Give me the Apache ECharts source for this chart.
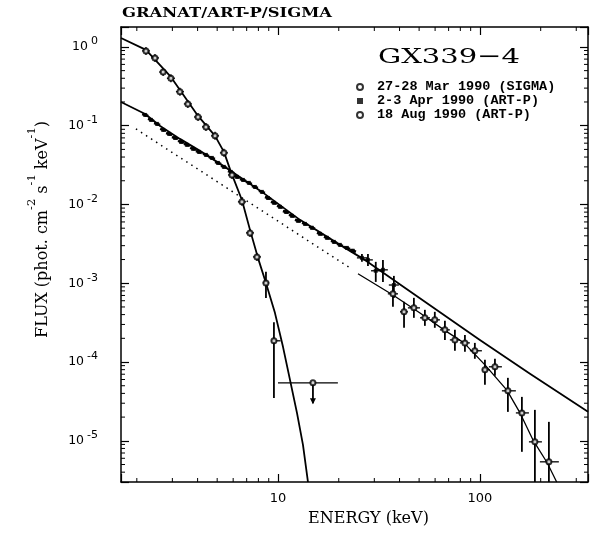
<!DOCTYPE html>
<html><head><meta charset="utf-8">
<script src="https://cdn.jsdelivr.net/npm/echarts@6/dist/echarts.min.js"></script>
<style>html,body{margin:0;padding:0;background:#fff}#c{width:596px;height:533px}</style>
</head><body><div id="c"></div>
<script>
// ---- axes ----
const xRange = [1.67, 343];
const yRange = [3.0e-6, 1.79];
const minorSteps = [2, 3, 4, 5, 6, 7, 8, 9];
const xDecades = [1, 10, 100];
const yDecades = [1e-6, 1e-5, 1e-4, 1e-3, 1e-2, 1e-1, 1];
const legendNames = ['27-28 Mar 1990 (SIGMA)', '2-3 Apr 1990 (ART-P)', '18 Aug 1990 (ART-P)'];

// ---- 2-3 Apr 1990 (ART-P), filled ----
const aprE = [2.20,2.35,2.52,2.70,2.89,3.09,3.31,3.54,3.80,4.06,4.40,4.71,5.05,5.40,5.85,6.27,6.71,7.18,7.69,8.33,8.92,9.55,10.23,10.95,11.73,12.56,13.61,14.74,16.14,17.48,18.93,20.27,21.96,23.51];
const aprF = [0.137,0.1185,0.1054,0.0885,0.0787,0.070,0.0623,0.0571,0.0508,0.0465,0.0426,0.039,0.0337,0.030,0.0259,0.0224,0.0205,0.0188,0.0167,0.01445,0.0121,0.0105,0.00933,0.00805,0.00717,0.0062,0.00567,0.00505,0.00424,0.00377,0.00335,0.00307,0.00281,0.00258];
const aprErrE   = [26.05, 27.9, 30.5, 33.1, 37.5];
const aprErrF   = [0.0021, 0.00198, 0.00144, 0.00148, 0.00095];
const aprErrElo = [24.6, 26.4, 28.9, 31.3, 35.4];
const aprErrEhi = [27.6, 29.5, 32.4, 35.0, 39.7];
const aprErrFlo = [0.00187, 0.00166, 0.00104, 0.00104, 0.00065];
const aprErrFhi = [0.00236, 0.00236, 0.00187, 0.00198, 0.00124];
const aprModelE = [1.67,2.20,2.61,3.27,4.11,5.85,8.33,12.85,20.3,26.4,100,177,343];
const aprModelF = [0.20,0.141,0.099,0.068,0.0479,0.0267,0.01445,0.00638,0.00307,0.00204,0.000191,0.000071,0.0000233];

// ---- 27-28 Mar 1990 (SIGMA), open ----
const sigE   = [37.1,42.1,47.1,53.4,59.8,67.1,75.2,84.3,94.4,105.9,118.7,137.6,161.4,187.2,219.6];
const sigF   = [7.34e-4,4.34e-4,4.87e-4,3.64e-4,3.43e-4,2.56e-4,1.91e-4,1.75e-4,1.39e-4,7.96e-5,8.7e-5,4.31e-5,2.26e-5,9.7e-6,5.41e-6];
const sigElo = [35.0,40.2,44.0,50.5,56.6,63.4,71.0,79.6,89.2,102.3,110.8,128.5,150.7,174.9,198.2];
const sigEhi = [39.3,44.0,50.5,56.6,63.4,71.0,79.6,89.2,102.3,112.1,128.5,150.7,174.9,202.8,246];
const sigFlo = [5.02e-4,2.72e-4,3.64e-4,2.88e-4,2.72e-4,1.91e-4,1.39e-4,1.35e-4,1.10e-4,5.14e-5,6.68e-5,2.33e-5,7.25e-6,3.0e-6,3.0e-6];
const sigFhi = [9.27e-4,5.81e-4,6.53e-4,4.6e-4,4.34e-4,3.33e-4,2.56e-4,2.21e-4,1.75e-4,1.07e-4,1.10e-4,6.3e-5,3.61e-5,2.47e-5,1.74e-5];
const sigDotE = [1.98, 22.7];
const sigDotF = [0.091, 1.57e-3];
const sigModelE = [24.9,37.1,50.5,66.4,83.4,105.9,136,158,183,215,240];
const sigModelF = [1.32e-3,7.1e-4,4.2e-4,2.56e-4,1.75e-4,9.2e-5,4.4e-5,2.26e-5,1.03e-5,5.3e-6,3.0e-6];

// ---- 18 Aug 1990 (ART-P), open ----
const augE = [2.22,2.46,2.70,2.95,3.27,3.58,4.02,4.40,4.88,5.40,5.92,6.63,7.27,7.87];
const augF = [0.89,0.725,0.48,0.40,0.27,0.189,0.129,0.0966,0.0743,0.0452,0.0237,0.0108,0.00436,0.00216];
const augErrE   = [8.72, 9.55];
const augErrF   = [0.00101, 1.86e-4];
const augErrElo = [8.4, 9.27];
const augErrEhi = [9.05, 10.3];
const augErrFlo = [6.5e-4, 3.5e-5];
const augErrFhi = [1.4e-3, 3.2e-4];
const augUlE = [14.9], augUlF = [5.45e-5], augUlElo = [10.0], augUlEhi = [19.8], augUlTip = [3.0e-5];
const augModelE = [1.67,2.22,2.95,4.02,4.88,5.40,5.85,6.63,7.27,7.96,8.72,9.66,10.59,11.47,12.42,13.30,14.08];
const augModelF = [1.30,0.916,0.416,0.133,0.0743,0.0465,0.0259,0.0114,0.00476,0.0021,0.00101,4.21e-4,1.56e-4,5.94e-5,2.26e-5,8.9e-6,3.0e-6];

// ---- helpers ----
const zip = (...a) => a[0].map((_, i) => a.map(arr => arr[i]));
const inRange = (v, r) => v > r[0] * 1.0001 && v < r[1] * 0.9999;
const xMinor = [], yMinor = [];
xDecades.forEach(d => minorSteps.forEach(s => { if (inRange(d * s, xRange)) xMinor.push(d * s); }));
yDecades.forEach(d => minorSteps.forEach(s => { if (inRange(d * s, yRange)) yMinor.push(d * s); }));
const isDecade = v => Math.abs(Math.log10(v) - Math.round(Math.log10(v))) < 1e-6;
function measure(text, font) { const c = document.createElement('canvas').getContext('2d'); c.font = font; return c.measureText(text).width; }
const K = '#000';
const ln = (x1, y1, x2, y2, w) => ({type: 'line', shape: {x1, y1, x2, y2}, style: {stroke: K, lineWidth: w}});

function minorXRender(params, api) {
  const x = api.value(0);
  const b = api.coord([x, yRange[0]]), t = api.coord([x, yRange[1]]);
  return {type: 'group', children: [ln(b[0], b[1], b[0], b[1] - 4, 1), ln(t[0], t[1], t[0], t[1] + 4, 1)]};
}
function minorYRender(params, api) {
  const y = api.value(1);
  const l = api.coord([xRange[0], y]), r = api.coord([xRange[1], y]);
  return {type: 'group', children: [ln(l[0], l[1], l[0] + 4, l[1], 1), ln(r[0], r[1], r[0] - 4, r[1], 1)]};
}
function dashRender(params, api) {
  const p = api.coord([api.value(0), api.value(1)]);
  return {type: 'group', children: [ln(p[0] - 3, p[1] - 1, p[0] + 3, p[1] + 1, 2.6), ln(p[0], p[1] - 2, p[0], p[1] + 2, 1.2)]};
}
function crossRender(params, api) {
  const p = api.coord([api.value(0), api.value(1)]);
  return {type: 'group', children: [ln(p[0] - 4, p[1], p[0] + 4, p[1], 1.3), ln(p[0], p[1] - 4, p[0], p[1] + 4, 1.3)]};
}
function errRender(params, api) {
  const e = api.value(0), f = api.value(1);
  const a = api.coord([api.value(2), f]), b = api.coord([api.value(3), f]);
  const c = api.coord([e, api.value(4)]), d = api.coord([e, api.value(5)]);
  return {type: 'group', children: [ln(a[0], a[1], b[0], b[1], 1.3), ln(c[0], c[1], d[0], d[1], 1.8)]};
}
function ulRender(params, api) {
  const e = api.value(0), f = api.value(1);
  const a = api.coord([api.value(2), f]), b = api.coord([api.value(3), f]);
  const p = api.coord([e, f]), t = api.coord([e, api.value(4)]);
  return {type: 'group', children: [
    ln(a[0], a[1], b[0], b[1], 1.3), ln(p[0], p[1], t[0], t[1], 1.8),
    {type: 'polygon', shape: {points: [[t[0] - 3, t[1] - 5], [t[0] + 3, t[1] - 5], [t[0], t[1] + 1]]}, style: {fill: K}}
  ]};
}
const custom = (data, renderItem, z, clip) => ({type: 'custom', data, renderItem, z: z || 3, silent: true, clip: clip !== false, animation: false});
const line = (E, F, w, dash) => ({type: 'line', data: zip(E, F), symbol: 'none', smooth: false, z: 2, silent: true,
  lineStyle: {color: K, width: w, type: dash || 'solid', join: 'round'}, clip: true});

const yLabelFmt = v => {
  if (!isDecade(v)) return '';
  const e = Math.round(Math.log10(v));
  return '{b|10}{s|' + (e < 0 ? '-' + (-e) : String(e)) + '}';
};
const baseAxis = {
  type: 'log', logBase: 10, splitLine: {show: false}, minorTick: {show: false}, minorSplitLine: {show: false},
  axisLine: {show: true, onZero: false, lineStyle: {color: K, width: 1.5}},
  axisTick: {show: true, inside: true, length: 8, lineStyle: {color: K, width: 1.2}}
};

const titleFont = 'bold 13px "DejaVu Serif"';
const gxFont = '21px "DejaVu Serif"';

const option = {
  animation: false,
  backgroundColor: '#fff',
  grid: {left: 121, top: 27, width: 467, height: 455, containLabel: false, outerBoundsMode: 'none'},
  legend: {
    data: legendNames, orient: 'vertical', left: 351, top: 75, itemWidth: 6, itemHeight: 6, itemGap: 0,
    selectedMode: false,
    textStyle: {fontFamily: 'Liberation Mono', fontWeight: 'bold', fontSize: 13.5, color: K, lineHeight: 13.5, padding: [0, 0, 0, 9]}
  },
  graphic: [
    {type: 'text', x: 122, y: 7, scaleX: 210 / measure('GRANAT/ART-P/SIGMA', titleFont),
     style: {text: 'GRANAT/ART-P/SIGMA', font: titleFont, fill: K, verticalAlign: 'top'}},
    {type: 'text', x: 378, y: 47, scaleX: 142 / measure('GX339−4', gxFont),
     style: {text: 'GX339−4', font: gxFont, fill: K, verticalAlign: 'top'}}
  ],
  xAxis: [
    Object.assign({}, baseAxis, {min: xRange[0], max: xRange[1], position: 'bottom',
      axisLabel: {margin: 10, color: K, fontFamily: 'DejaVu Sans', fontSize: 13, formatter: v => isDecade(v) ? String(Math.round(v)) : ''},
      name: 'ENERGY (keV)', nameLocation: 'middle', nameGap: 29,
      nameTextStyle: {fontFamily: 'DejaVu Serif', fontSize: 16, color: K, padding: [0, 0, 0, 28]}}),
    Object.assign({}, baseAxis, {min: xRange[0], max: xRange[1], position: 'top', axisLabel: {show: false}})
  ],
  yAxis: [
    Object.assign({}, baseAxis, {min: yRange[0], max: yRange[1], position: 'left',
      axisLabel: {margin: 23, color: K, formatter: yLabelFmt, rich: {
        b: {fontFamily: 'DejaVu Sans', fontSize: 12.5, lineHeight: 22, color: K},
        s: {fontFamily: 'DejaVu Sans', fontSize: 11, lineHeight: 10, verticalAlign: 'top', color: K, padding: [0, 0, 0, 3]}}},
      name: '{t|FLUX (phot. cm}{s|-2}{t| s}{s|-1}{t| keV}{s|-1}{t|)}', nameLocation: 'middle', nameRotate: 90, nameGap: 61,
      nameTextStyle: {padding: [0, 0, 0, 50], rich: {
        t: {fontFamily: 'DejaVu Serif', fontSize: 16, lineHeight: 34, color: K},
        s: {fontFamily: 'DejaVu Serif', fontSize: 11.5, lineHeight: 10, verticalAlign: 'top', color: K}}}}),
    Object.assign({}, baseAxis, {min: yRange[0], max: yRange[1], position: 'right', axisLabel: {show: false}})
  ],
  series: [
    custom(xMinor.map(v => [v, yRange[0]]), minorXRender, 1, false),
    custom(yMinor.map(v => [xRange[0], v]), minorYRender, 1, false),
    line(augModelE, augModelF, 1.8),
    line(aprModelE, aprModelF, 1.8),
    line(sigDotE, sigDotF, 1.5, [1.5, 4.5]),
    line(sigModelE, sigModelF, 1.3),
    custom(zip(aprE, aprF), dashRender, 4),
    custom(zip(aprErrE, aprErrF, aprErrElo, aprErrEhi, aprErrFlo, aprErrFhi), errRender, 4),
    custom(zip(sigE, sigF, sigElo, sigEhi, sigFlo, sigFhi), errRender, 4),
    custom(zip(augE, augF), crossRender, 4),
    custom(zip(augErrE, augErrF, augErrElo, augErrEhi, augErrFlo, augErrFhi), errRender, 4),
    custom(zip(augUlE, augUlF, augUlElo, augUlEhi, augUlTip), ulRender, 4),
    {name: legendNames[0], type: 'scatter', data: zip(sigE, sigF), symbol: 'emptyCircle', symbolSize: 5, z: 6, silent: true,
     itemStyle: {color: K, borderColor: K, borderWidth: 1.2}},
    {name: legendNames[1], type: 'scatter', data: zip(aprE.concat(aprErrE), aprF.concat(aprErrF)), symbol: 'rect', symbolSize: 4, z: 6, silent: true,
     itemStyle: {color: K}},
    {name: legendNames[2], type: 'scatter', data: zip(augE.concat(augErrE, augUlE), augF.concat(augErrF, augUlF)), symbol: 'emptyCircle', symbolSize: 5, z: 6, silent: true,
     itemStyle: {color: K, borderColor: K, borderWidth: 1.2}}
  ]
};
const chart = echarts.init(document.getElementById('c'), null, {renderer: 'canvas'});
chart.setOption(option);
</script></body></html>
